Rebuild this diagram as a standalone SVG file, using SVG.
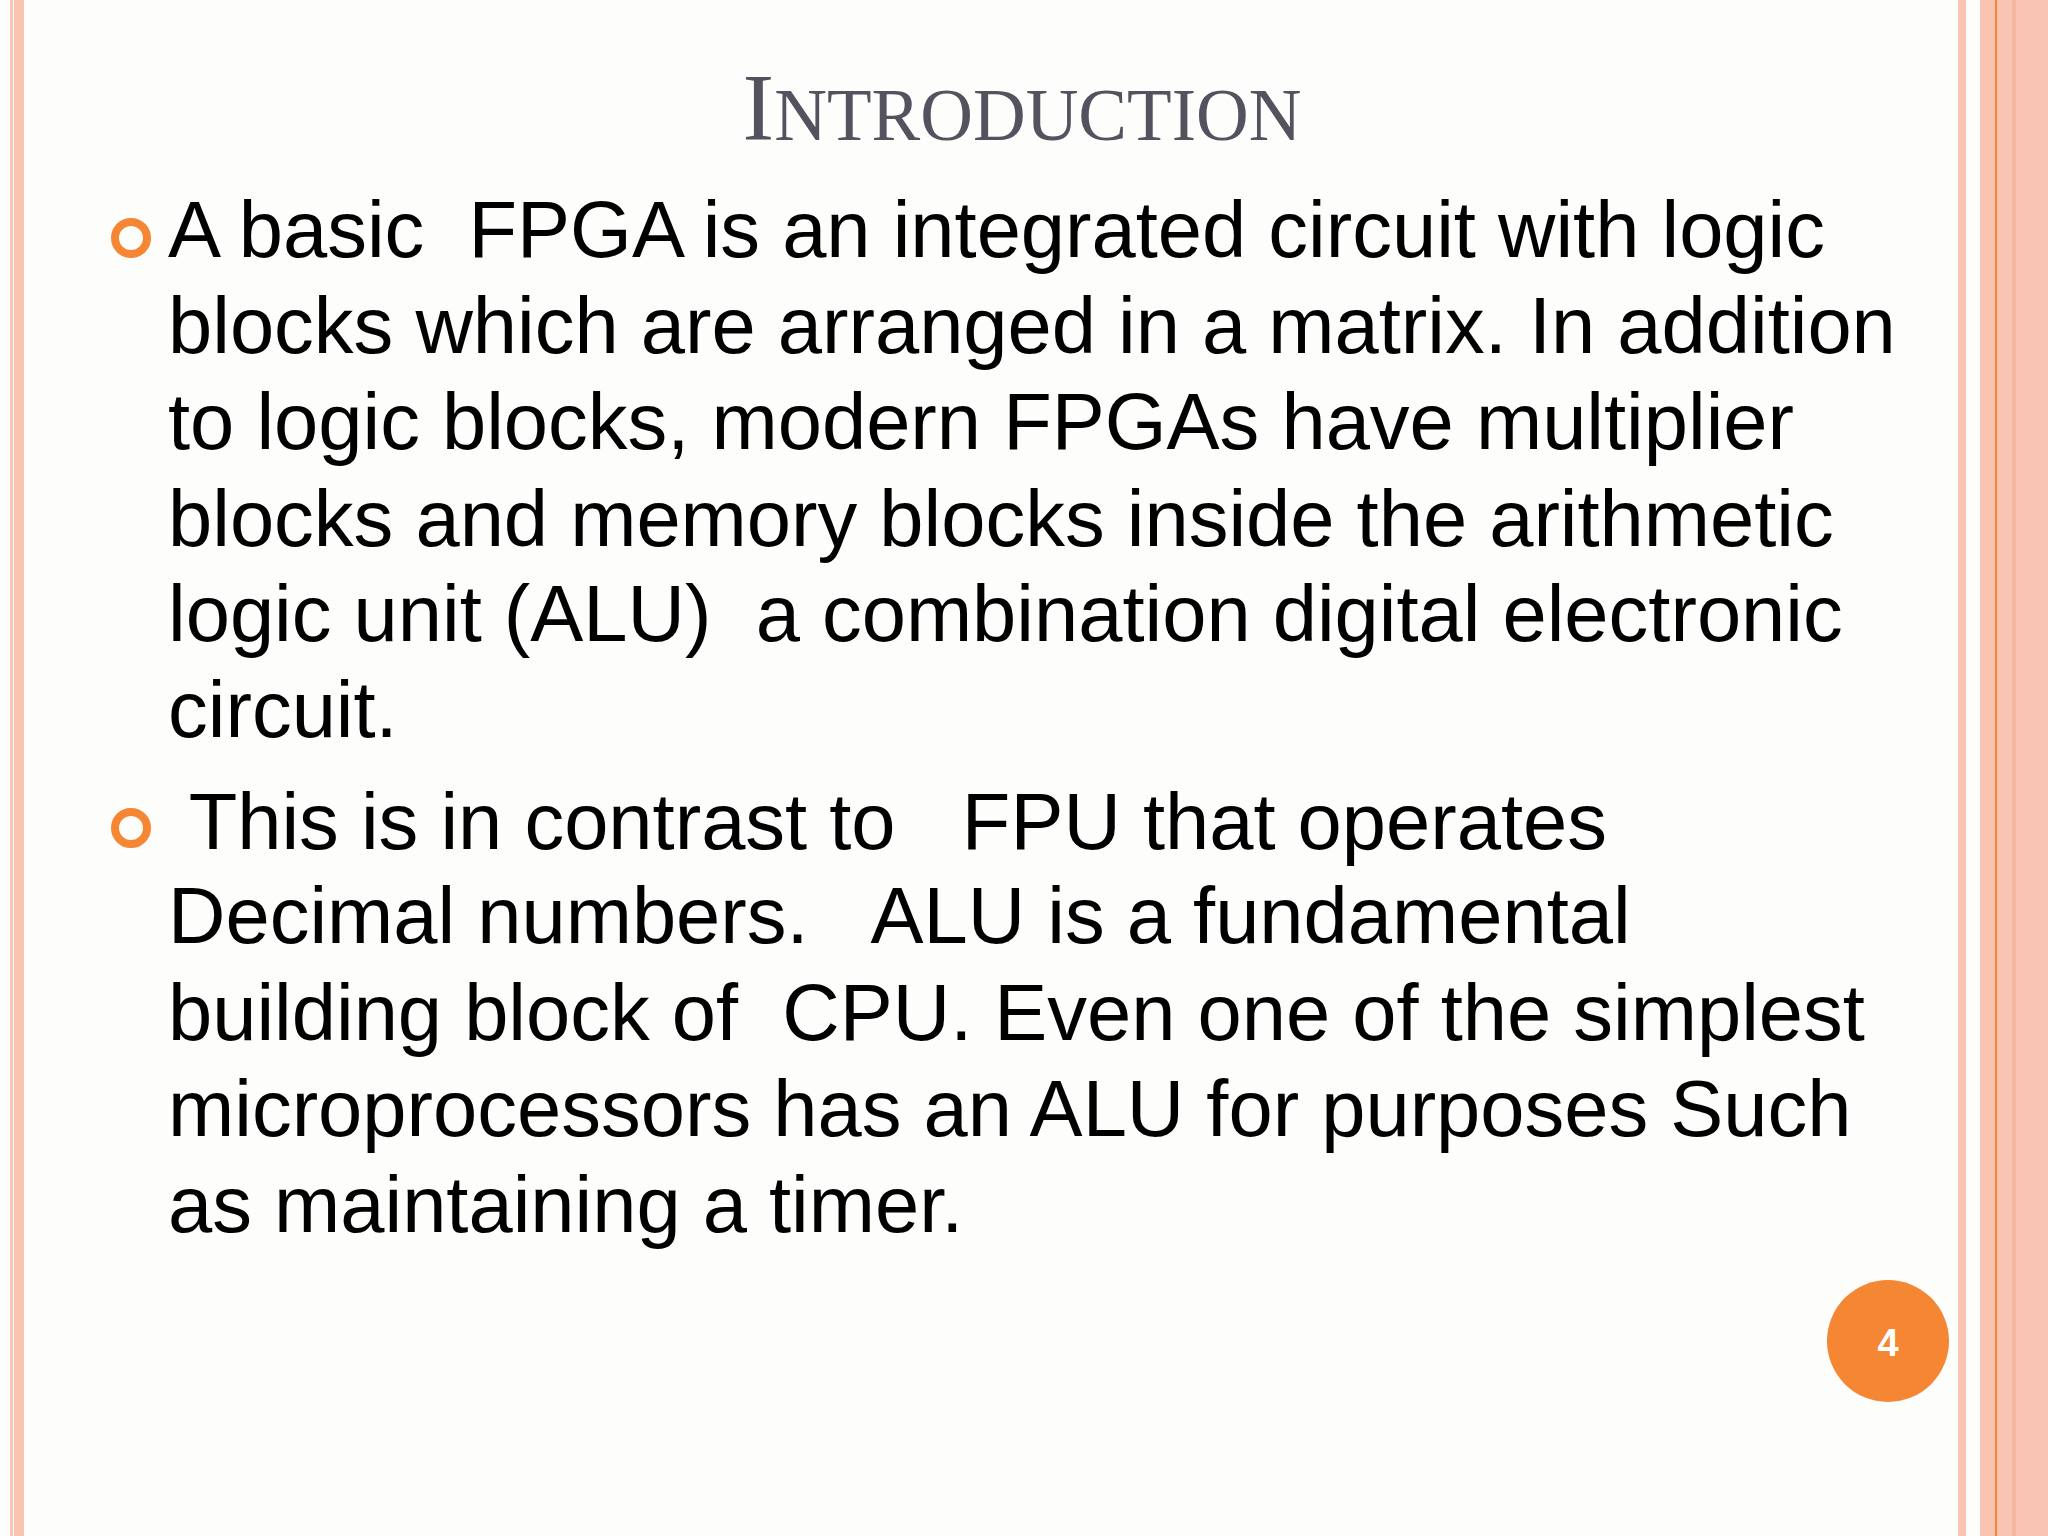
<svg xmlns="http://www.w3.org/2000/svg" width="2048" height="1536" viewBox="0 0 2048 1536">
<style>
.b{font-family:"Liberation Sans",Arial,sans-serif;font-size:79.5px;fill:#000;white-space:pre}
.bul{fill:none;stroke:#f58634;stroke-width:8}
</style>
<rect width="2048" height="1536" fill="#fdfdfc"/>
<g id="borders">
<rect x="10" y="0" width="3" height="1536" fill="#f9c5b2"/>
<rect x="14" y="0" width="10" height="1536" fill="#f9c5b2"/>
<rect x="1958" y="0" width="8" height="1536" fill="#f9c5b2"/>
<rect x="1980" y="0" width="68" height="1536" fill="#f9c5b2"/>
<rect x="1995" y="0" width="2" height="1536" fill="#f58634"/>
<rect x="2012" y="0" width="4" height="1536" fill="#f4b8a0"/>
</g>
<g id="title"><text x="1022" y="140" text-anchor="middle" font-family="Liberation Serif,serif" font-size="73" fill="#53535f"><tspan font-size="95">I</tspan>NTRODUCTION</text></g>
<g id="body">
<circle class="bul" cx="131" cy="238" r="16"/>
<circle class="bul" cx="131" cy="828" r="16"/>
<text class="b" x="168" y="257" xml:space="preserve">A basic  FPGA is an integrated circuit with logic</text>
<text class="b" x="168" y="353">blocks which are arranged in a matrix. In addition</text>
<text class="b" x="168" y="449">to logic blocks, modern FPGAs have multiplier</text>
<text class="b" x="168" y="546">blocks and memory blocks inside the arithmetic</text>
<text class="b" x="168" y="641" xml:space="preserve">logic unit (ALU)  a combination digital electronic</text>
<text class="b" x="168" y="737">circuit.</text>
<text class="b" x="168" y="849" xml:space="preserve"> This is in contrast to   FPU that operates</text>
<text class="b" x="168" y="943" xml:space="preserve">Decimal numbers.   ALU is a fundamental</text>
<text class="b" x="168" y="1040" xml:space="preserve">building block of  CPU. Even one of the simplest</text>
<text class="b" x="168" y="1136">microprocessors has an ALU for purposes Such</text>
<text class="b" x="168" y="1232">as maintaining a timer.</text>
</g>
<g id="page">
<circle cx="1888" cy="1341" r="61" fill="#f58634"/>
<text x="1888" y="1356" text-anchor="middle" font-family="Liberation Sans,Arial,sans-serif" font-weight="bold" font-size="38" fill="#fff">4</text>
</g>
</svg>
